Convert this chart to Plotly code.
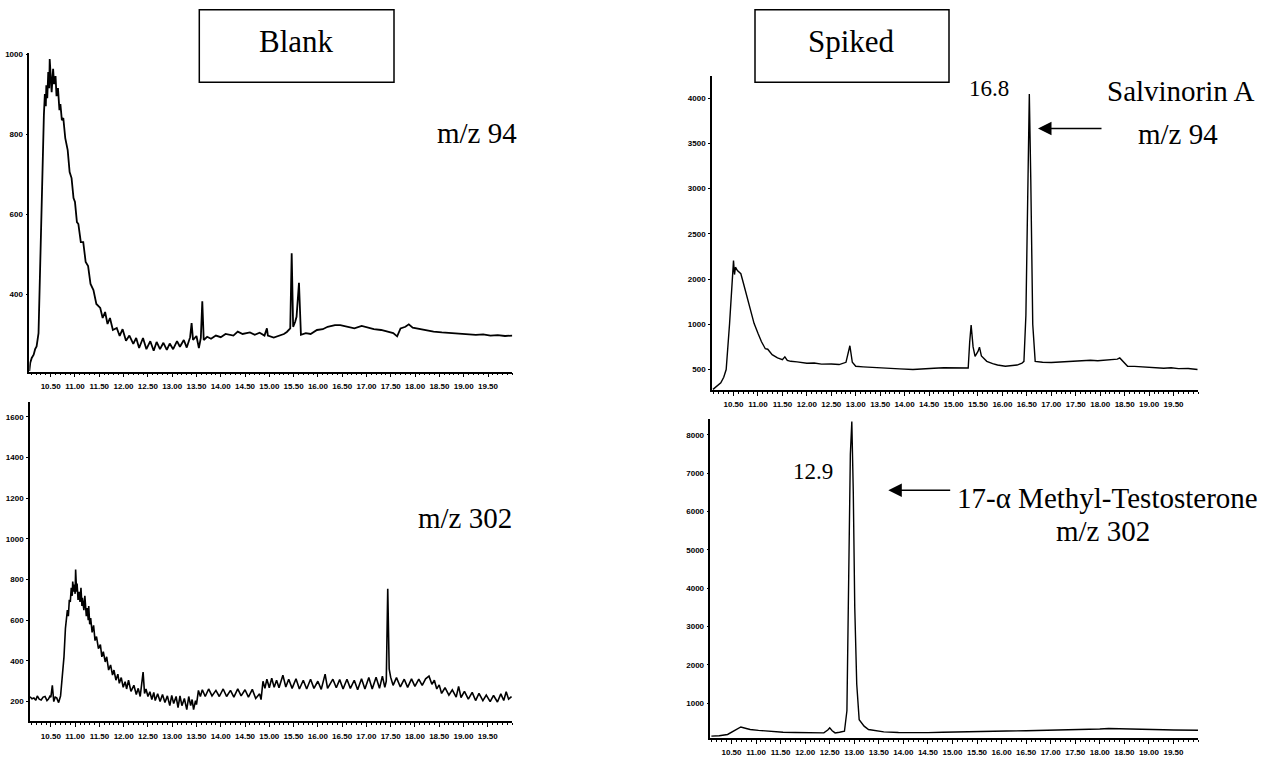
import plotly.graph_objects as go

W, H = 1271, 757

# ---------------- data (retention time [min], abundance) ----------------
blank94 = [(10.06, 207), (10.08, 228), (10.11, 240), (10.15, 248), (10.18, 262), (10.21, 269),
           (10.25, 302), (10.28, 451), (10.31, 657), (10.34, 790), (10.36, 847), (10.38, 900),
           (10.40, 870), (10.41, 922), (10.43, 890), (10.45, 955), (10.47, 915), (10.48, 988),
           (10.50, 940), (10.52, 905), (10.55, 963), (10.57, 925), (10.60, 945), (10.62, 895),
           (10.65, 915), (10.68, 860), (10.70, 875), (10.73, 835), (10.76, 840), (10.80, 790),
           (10.85, 760), (10.89, 705), (10.93, 690), (10.97, 640), (11.00, 630), (11.04, 580),
           (11.07, 575), (11.12, 530), (11.17, 530), (11.22, 480), (11.27, 470), (11.32, 425),
           (11.38, 410), (11.44, 375), (11.52, 365), (11.57, 340), (11.62, 355), (11.67, 325),
           (11.72, 340), (11.78, 310), (11.86, 315), (11.92, 295), (11.98, 312), (12.05, 283),
           (12.12, 296), (12.20, 275), (12.26, 290), (12.32, 265), (12.40, 290), (12.47, 262),
           (12.55, 282), (12.62, 258), (12.68, 280), (12.75, 262), (12.82, 278), (12.89, 260),
           (12.95, 276), (13.02, 262), (13.10, 282), (13.16, 268), (13.24, 285), (13.30, 266),
           (13.37, 292), (13.40, 327), (13.43, 285), (13.50, 295), (13.55, 265), (13.59, 290),
           (13.62, 382), (13.65, 285), (13.72, 293), (13.80, 288), (13.90, 296), (14.00, 292),
           (14.10, 300), (14.26, 296), (14.35, 306), (14.45, 300), (14.60, 304), (14.70, 298),
           (14.80, 303), (14.90, 296), (14.95, 314), (14.97, 296), (15.09, 291), (15.20, 296),
           (15.30, 300), (15.36, 305), (15.43, 314), (15.46, 502), (15.49, 318), (15.53, 330),
           (15.56, 343), (15.61, 428), (15.65, 298), (15.75, 302), (15.85, 300), (15.98, 310),
           (16.10, 312), (16.20, 318), (16.35, 322), (16.46, 322), (16.60, 318), (16.75, 314),
           (16.90, 320), (17.01, 317), (17.15, 312), (17.30, 310), (17.45, 306), (17.55, 302),
           (17.63, 294), (17.70, 314), (17.80, 318), (17.87, 324), (17.95, 316), (18.10, 312),
           (18.25, 309), (18.38, 306), (18.55, 304), (18.70, 303), (18.90, 301), (19.07, 300),
           (19.25, 298), (19.40, 299), (19.55, 296), (19.70, 297), (19.85, 295), (20.00, 296)]

blank302 = [(10.07, 224), (10.11, 214), (10.15, 218), (10.19, 206), (10.22, 228), (10.26, 212),
            (10.30, 208), (10.34, 222), (10.38, 225), (10.42, 205), (10.45, 212), (10.48, 226),
            (10.50, 222), (10.53, 280), (10.56, 200), (10.59, 222), (10.62, 218), (10.66, 195),
            (10.70, 228), (10.74, 330), (10.77, 420), (10.80, 560), (10.84, 650), (10.86, 620),
            (10.88, 700), (10.90, 690), (10.92, 760), (10.94, 720), (10.95, 790), (10.97, 740),
            (10.98, 775), (11.00, 730), (11.01, 850), (11.03, 740), (11.04, 780), (11.06, 700),
            (11.08, 740), (11.10, 690), (11.12, 760), (11.14, 670), (11.15, 710), (11.18, 650),
            (11.20, 720), (11.23, 620), (11.25, 660), (11.27, 600), (11.28, 670), (11.30, 580),
            (11.32, 610), (11.35, 540), (11.38, 575), (11.41, 500), (11.44, 520), (11.48, 460),
            (11.52, 480), (11.55, 420), (11.58, 445), (11.62, 395), (11.65, 420), (11.69, 355),
            (11.73, 380), (11.77, 330), (11.80, 355), (11.84, 305), (11.88, 335), (11.91, 290),
            (11.95, 318), (11.99, 270), (12.03, 298), (12.06, 262), (12.10, 305), (12.15, 250),
            (12.21, 280), (12.26, 235), (12.30, 265), (12.34, 225), (12.37, 275), (12.40, 345),
            (12.43, 240), (12.46, 262), (12.50, 225), (12.54, 248), (12.58, 210), (12.62, 245),
            (12.65, 205), (12.70, 238), (12.75, 200), (12.80, 235), (12.85, 195), (12.90, 228),
            (12.95, 180), (12.99, 230), (13.03, 190), (13.08, 225), (13.12, 170), (13.16, 228),
            (13.20, 180), (13.25, 215), (13.30, 160), (13.34, 225), (13.38, 180), (13.41, 210),
            (13.44, 160), (13.48, 205), (13.50, 185), (13.54, 255), (13.58, 225), (13.62, 258),
            (13.68, 225), (13.75, 262), (13.82, 228), (13.90, 255), (13.97, 225), (14.05, 262),
            (14.12, 225), (14.20, 255), (14.27, 222), (14.35, 262), (14.42, 228), (14.50, 258),
            (14.57, 222), (14.65, 260), (14.72, 215), (14.80, 238), (14.83, 210), (14.87, 300),
            (14.91, 265), (14.95, 310), (15.00, 268), (15.05, 315), (15.10, 270), (15.15, 305),
            (15.20, 268), (15.28, 330), (15.34, 272), (15.40, 310), (15.47, 265), (15.55, 312),
            (15.62, 262), (15.70, 305), (15.77, 262), (15.85, 310), (15.92, 265), (16.00, 300),
            (16.07, 260), (16.15, 335), (16.20, 265), (16.31, 310), (16.38, 268), (16.45, 308),
            (16.52, 262), (16.60, 310), (16.67, 265), (16.75, 305), (16.82, 258), (16.90, 312),
            (16.97, 262), (17.05, 318), (17.12, 262), (17.20, 320), (17.27, 265), (17.33, 325),
            (17.38, 270), (17.41, 300), (17.44, 755), (17.47, 360), (17.50, 320), (17.55, 280),
            (17.62, 318), (17.70, 272), (17.78, 310), (17.85, 270), (17.93, 312), (18.00, 275),
            (18.08, 310), (18.15, 280), (18.22, 312), (18.29, 325), (18.35, 285), (18.40, 305),
            (18.45, 262), (18.50, 282), (18.55, 240), (18.62, 268), (18.70, 232), (18.77, 258),
            (18.85, 222), (18.90, 275), (18.95, 220), (19.02, 250), (19.10, 212), (19.18, 245),
            (19.25, 205), (19.32, 240), (19.40, 205), (19.47, 232), (19.55, 200), (19.62, 230),
            (19.70, 198), (19.77, 238), (19.83, 205), (19.88, 248), (19.93, 212), (19.99, 225)]

spiked94 = [(10.08, 781), (10.16, 815), (10.24, 854), (10.30, 915), (10.35, 1000), (10.42, 1511),
            (10.48, 2000), (10.50, 2204), (10.52, 2050), (10.54, 2131), (10.58, 2095), (10.65, 2059),
            (10.70, 1960), (10.76, 1840), (10.84, 1660), (10.92, 1511), (11.00, 1400), (11.07, 1310),
            (11.15, 1230), (11.20, 1225), (11.29, 1164), (11.40, 1130), (11.50, 1110), (11.55, 1140),
            (11.60, 1100), (11.67, 1091), (11.80, 1085), (12.00, 1070), (12.15, 1072), (12.30, 1060),
            (12.50, 1062), (12.66, 1055), (12.80, 1080), (12.88, 1263), (12.93, 1080), (13.00, 1036),
            (13.15, 1030), (13.30, 1025), (13.45, 1020), (13.60, 1010), (13.90, 1008), (14.17, 1000),
            (14.40, 1012), (14.60, 1015), (14.80, 1020), (15.00, 1020), (15.15, 1015), (15.30, 1018),
            (15.33, 1300), (15.36, 1493), (15.40, 1250), (15.44, 1146), (15.50, 1200), (15.53, 1248),
            (15.57, 1150), (15.68, 1091), (15.80, 1065), (15.90, 1050), (16.06, 1036), (16.20, 1042),
            (16.30, 1050), (16.40, 1070), (16.44, 1091), (16.48, 1600), (16.52, 3300), (16.55, 4047),
            (16.58, 3100), (16.62, 1500), (16.67, 1091), (16.75, 1082), (16.82, 1080), (17.00, 1078),
            (17.20, 1085), (17.40, 1090), (17.60, 1092), (17.80, 1102), (17.95, 1098), (18.20, 1105),
            (18.35, 1115), (18.40, 1128), (18.48, 1080), (18.56, 1036), (18.70, 1035), (18.90, 1030),
            (19.10, 1022), (19.30, 1015), (19.45, 1020), (19.60, 1010), (19.80, 1012), (19.99, 1000)]

spiked302 = [(10.09, 139), (10.25, 150), (10.42, 183), (10.55, 280), (10.62, 340), (10.69, 379),
             (10.80, 340), (10.88, 312), (11.05, 290), (11.20, 270), (11.40, 255), (11.55, 242),
             (11.80, 235), (12.00, 230), (12.20, 228), (12.38, 224), (12.46, 300), (12.50, 354),
             (12.55, 280), (12.61, 224), (12.70, 240), (12.80, 268), (12.85, 800), (12.88, 3500),
             (12.92, 7500), (12.95, 8350), (12.98, 6500), (13.01, 3500), (13.05, 1500), (13.10, 570),
             (13.20, 400), (13.29, 312), (13.45, 270), (13.60, 250), (13.90, 235), (14.19, 224),
             (14.50, 232), (14.80, 240), (15.20, 255), (15.70, 268), (16.10, 275), (16.50, 280),
             (16.85, 288), (17.20, 294), (17.70, 310), (18.00, 325), (18.18, 338), (18.40, 328),
             (18.60, 320), (18.85, 316), (19.09, 312), (19.30, 305), (19.50, 300), (19.75, 296),
             (20.00, 294)]

x_ticks = [10.5, 11.0, 11.5, 12.0, 12.5, 13.0, 13.5, 14.0, 14.5, 15.0,
           15.5, 16.0, 16.5, 17.0, 17.5, 18.0, 18.5, 19.0, 19.5]
x_tick_labels = ["10.50", "11.00", "11.50", "12.00", "12.50", "13.00", "13.50", "14.00", "14.50",
                 "15.00", "15.50", "16.00", "16.50", "17.00", "17.50", "18.00", "18.50", "19.00", "19.50"]

y1_ticks = [400, 600, 800, 1000]
y2_ticks = [200, 400, 600, 800, 1000, 1200, 1400, 1600]
y3_ticks = [1000, 1500, 2000, 2500, 3000, 3500, 4000]
y3_tick_labels = ["500", "1000", "2000", "2500", "3000", "3500", "4000"]
y4_ticks = [1000, 2000, 3000, 4000, 5000, 6000, 7000, 8000]

# ---------------- figure ----------------
def px_x(p):
    return p / W

def px_y(p):
    return 1 - p / H

fig = go.Figure()
series = [(blank94, "x", "y", 1.8), (blank302, "x2", "y2", 1.6),
          (spiked94, "x3", "y3", 1.4), (spiked302, "x4", "y4", 1.4)]
for data, xa, ya, lw in series:
    fig.add_trace(go.Scatter(x=[p[0] for p in data], y=[p[1] for p in data], mode="lines",
                             xaxis=xa, yaxis=ya, line=dict(color="black", width=lw),
                             hoverinfo="skip"))

tick_font = dict(family="Liberation Sans Narrow, Liberation Sans, Arial",
                 size=8, color="black", weight="bold")

def xaxis(dom, anchor, rng):
    return dict(domain=dom, anchor=anchor, range=rng, tickmode="array", tickvals=x_ticks,
                ticktext=x_tick_labels, tickangle=0, ticks="outside", ticklen=4, tickwidth=1,
                tickcolor="black", showline=True, linecolor="black", linewidth=1.5,
                showgrid=False, zeroline=False, tickfont=tick_font, ticklabelstandoff=2,
                minor=dict(tickmode="linear", tick0=10.0, dtick=0.1, ticks="outside", ticklen=2,
                           tickcolor="black", tickwidth=1, showgrid=False))

def yaxis(dom, anchor, rng, tv, tt=None):
    d = dict(domain=dom, anchor=anchor, range=rng, tickmode="array", tickvals=tv,
             ticks="outside", ticklen=2, tickwidth=1, tickcolor="black", showline=True,
             linecolor="black", linewidth=1.5, showgrid=False, zeroline=False,
             tickfont=tick_font, ticklabelstandoff=1)
    if tt is not None:
        d["ticktext"] = tt
    return d

fig.update_layout(
    width=W, height=H, margin=dict(l=0, r=0, t=0, b=0),
    paper_bgcolor="white", plot_bgcolor="white", showlegend=False,
    xaxis=xaxis([px_x(29.3), px_x(512.3)], "y", [10.06, 20.0]),
    yaxis=yaxis([px_y(372), px_y(50)], "x", [206, 1004], y1_ticks),
    xaxis2=xaxis([px_x(30), px_x(512)], "y2", [10.07, 20.0]),
    yaxis2=yaxis([px_y(725), px_y(403)], "x2", [103, 1672], y2_ticks),
    xaxis3=xaxis([px_x(712), px_x(1198)], "y3", [10.06, 20.0]),
    yaxis3=yaxis([px_y(390.7), px_y(73.3)], "x3", [773, 4249], y3_ticks, y3_tick_labels),
    xaxis4=xaxis([px_x(710.4), px_x(1198)], "y4", [10.07, 20.0]),
    yaxis4=yaxis([px_y(741.7), px_y(420)], "x4", [95, 8414], y4_ticks),
)

serif = "Liberation Serif, Times New Roman, serif"

def label(text, x, y, size):
    fig.add_annotation(text=text, x=px_x(x), y=px_y(y), xref="paper", yref="paper",
                       showarrow=False, xanchor="center", yanchor="middle",
                       font=dict(family=serif, size=size, color="black"))

# Title boxes
for x0, x1 in [(199.3, 394), (755, 949)]:
    fig.add_shape(type="rect", xref="paper", yref="paper", x0=px_x(x0), x1=px_x(x1),
                  y0=px_y(80), y1=px_y(6.7), line=dict(color="black", width=1.5))
label("Blank", 296.5, 39, 31)
label("Spiked", 852, 39, 31)

label("m/z 94", 476.7, 131, 29)
label("m/z 302", 465, 520, 29)
label("16.8", 989, 86, 23)
label("Salvinorin A", 1180.5, 89, 29)
label("m/z 94", 1178, 132, 29)
label("12.9", 813, 473, 23)
label("17-α Methyl-Testosterone", 1107.5, 500, 29)
label("m/z 302", 1103, 533, 29)

# Arrows
for tip_x, tail_x, yy in [(1038, 1103, 126.7), (888.3, 951.7, 491.7)]:
    fig.add_annotation(x=px_x(tip_x), y=px_y(yy), xref="paper", yref="paper", text="",
                       showarrow=True, ax=tail_x - tip_x, ay=0, axref="pixel", ayref="pixel",
                       arrowhead=2, arrowsize=1.8, arrowwidth=1.5, arrowcolor="black")

fig.write_html("out.html", config={"displayModeBar": False},
               post_script="document.body.style.margin='0px';document.body.style.overflow='hidden';")
